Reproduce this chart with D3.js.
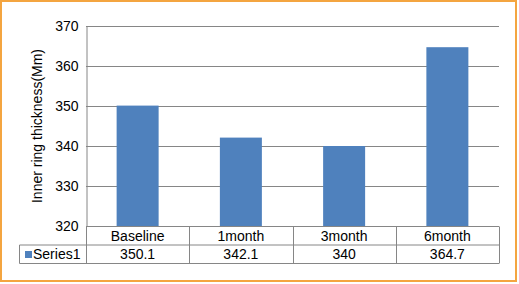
<!DOCTYPE html>
<html>
<head>
<meta charset="utf-8">
<script src="https://cdn.jsdelivr.net/npm/d3@7"></script>
<style>
  body { margin: 0; background: #fff; }
  svg { display: block; font-family: "Liberation Sans", Arial, sans-serif; }
</style>
</head>
<body>
<div id="chart-area"></div>
<script>
// Data
// ****
const categories = ["Baseline", "1month", "3month", "6month"]
const values = [350.1, 342.1, 340, 364.7]
const tableLabels = ["350.1", "342.1", "340", "364.7"]
const seriesName = "Series1"
const yTicks = [320, 330, 340, 350, 360, 370]

// Config
// ******
const W = 519, H = 284
const plot = {left: 86, right: 499, top: 26, bottom: 226}
const rowH = 18.5
const barColor = "#4F81BD", lineColor = "#868686"

const svg = d3.select("#chart-area").append("svg")
	.attr("width", W).attr("height", H)

// outer orange frame
svg.append("rect")
	.attr("x", 1).attr("y", 1)
	.attr("width", 515).attr("height", 280)
	.attr("fill", "#fff")
	.attr("stroke", "#F4A540").attr("stroke-width", 2)

const x = d3.scaleBand().domain(categories).range([plot.left, plot.right]).paddingInner(0).paddingOuter(0)
const y = d3.scaleLinear().domain([320, 370]).range([plot.bottom, plot.top])

// Gridlines
svg.append("g").selectAll("line").data(yTicks.slice(1)).join("line")
	.attr("x1", plot.left).attr("x2", plot.right)
	.attr("y1", d => Math.round(y(d)) + 0.5).attr("y2", d => Math.round(y(d)) + 0.5)
	.attr("stroke", lineColor)

// Y axis
const yAxis = svg.append("g")
	.attr("transform", "translate(" + (plot.left + 0.5) + ",0)")
	.call(d3.axisLeft(y).tickValues(yTicks).tickSize(0).tickPadding(8))
yAxis.select(".domain").attr("stroke", lineColor)
yAxis.selectAll("text").attr("font-size", "14px").attr("fill", "#000")
	.attr("font-family", "Liberation Sans, Arial, sans-serif")

svg.append("text")
	.attr("transform", "translate(42," + ((plot.top + plot.bottom) / 2) + ") rotate(-90)")
	.attr("text-anchor", "middle")
	.attr("font-size", "14px")
	.text("Inner ring thickness(Mm)")

// Bars
const barW = 42
svg.append("g").selectAll("rect").data(values).join("rect")
	.attr("x", (d, i) => x(categories[i]) + x.bandwidth() / 2 - barW / 2)
	.attr("y", d => y(d))
	.attr("width", barW)
	.attr("height", d => y(320) - y(d))
	.attr("fill", barColor)

// Data table
const table = svg.append("g").attr("stroke", lineColor).attr("fill", "none")
const tTop = plot.bottom + 0.5, tMid = tTop + rowH, tBot = tMid + rowH
table.append("line").attr("x1", plot.left).attr("x2", plot.right).attr("y1", tTop).attr("y2", tTop)
table.append("line").attr("x1", 19.5).attr("x2", plot.right).attr("y1", tMid).attr("y2", tMid)
table.append("line").attr("x1", 19.5).attr("x2", plot.right).attr("y1", tBot).attr("y2", tBot)
table.append("line").attr("x1", 19.5).attr("x2", 19.5).attr("y1", tMid).attr("y2", tBot)
const edges = categories.map(c => x(c)).concat([plot.right])
table.selectAll(".v").data(edges).join("line")
	.attr("x1", d => Math.round(d) + 0.5).attr("x2", d => Math.round(d) + 0.5)
	.attr("y1", tTop).attr("y2", tBot)

svg.append("g").selectAll("text").data(categories).join("text")
	.attr("x", d => x(d) + x.bandwidth() / 2)
	.attr("y", tTop + 14)
	.attr("text-anchor", "middle").attr("font-size", "14px")
	.text(d => d)

svg.append("g").selectAll("text").data(tableLabels).join("text")
	.attr("x", (d, i) => x(categories[i]) + x.bandwidth() / 2)
	.attr("y", tMid + 14)
	.attr("text-anchor", "middle").attr("font-size", "14px")
	.text(d => d)

svg.append("rect")
	.attr("x", 25).attr("y", tMid + 6).attr("width", 7).attr("height", 7)
	.attr("fill", barColor)
svg.append("text")
	.attr("x", 33).attr("y", tMid + 14)
	.attr("font-size", "14px")
	.text(seriesName)
</script>
</body>
</html>
